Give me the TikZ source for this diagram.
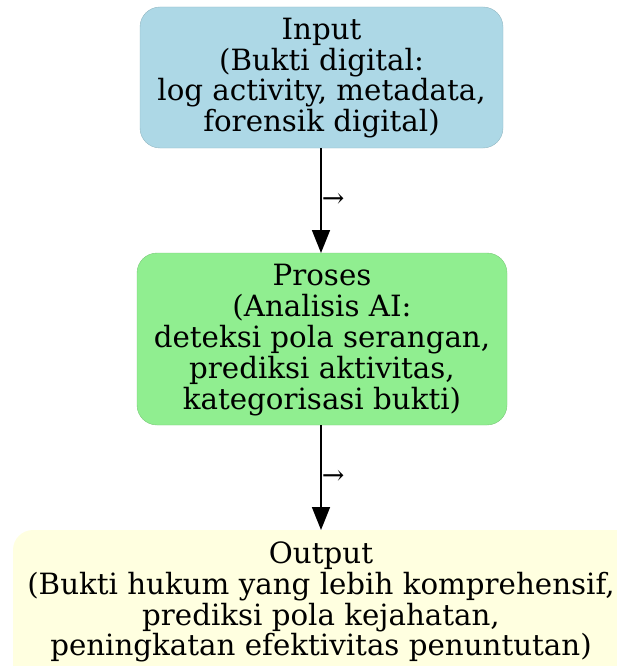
\documentclass[tikz,border=0pt]{standalone}
\usepackage{fontspec}
\setmainfont{DejaVu Serif}
\usetikzlibrary{arrows.meta}
\definecolor{inblue}{HTML}{ADD8E6}
\definecolor{ingreen}{HTML}{90EE90}
\definecolor{inyellow}{HTML}{FFFFE0}
\tikzset{
  stage/.style={align=center, inner sep=0pt,
    font=\fontsize{29.3}{30.8}\selectfont},
  flow/.style={-{Triangle[length=23pt,width=18pt]}, line width=1.8pt, black},
  lbl/.style={font=\fontsize{27}{27}\selectfont, inner sep=0pt}
}
\begin{document}
\begin{tikzpicture}[x=1pt,y=-1pt]
\useasboundingbox (0,0) rectangle (617,666);
\fill[inblue, draw=inblue!85!black] (140,7) [rounded corners=20pt] rectangle (503,148);
\node[stage] (in) at (321.5,78) {Input\\(Bukti digital:\\log activity, metadata,\\forensik digital)};
\coordinate (inb) at (321,148);
\fill[ingreen, draw=ingreen!85!black] (137,253) [rounded corners=20pt] rectangle (507,425);
\node[stage] (pr) at (322,340) {Proses\\(Analisis AI:\\deteksi pola serangan,\\prediksi aktivitas,\\kategorisasi bukti)};
\coordinate (prt) at (321,253);
\coordinate (prb) at (321,425);
\fill[inyellow] (13,530) [rounded corners=20pt] rectangle (640,700);
\node[stage] (out) at (321,602) {Output\\(Bukti hukum yang lebih komprehensif,\\prediksi pola kejahatan,\\peningkatan efektivitas penuntutan)};
\coordinate (outt) at (321,530);
\draw[flow] (inb) -- (prt) node[pos=0.5, anchor=west, lbl] (l1) {→};
\draw[flow] (prb) -- (outt) node[pos=0.5, anchor=west, lbl] (l2) {→};
\end{tikzpicture}
\end{document}
